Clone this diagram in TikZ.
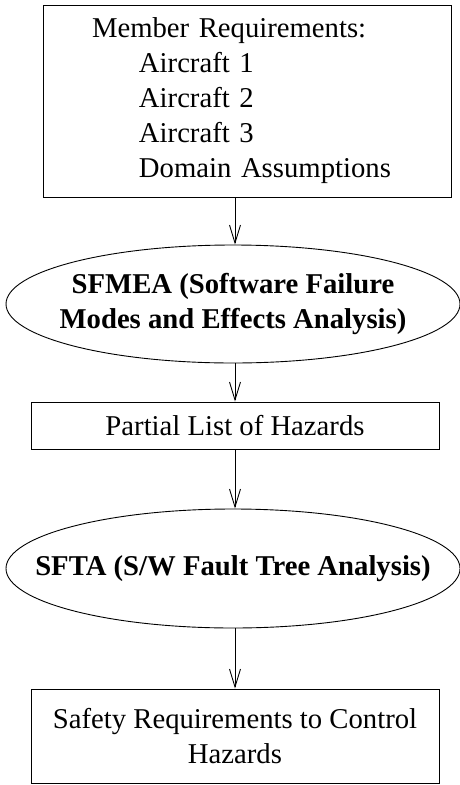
\documentclass[tikz,border=0pt]{standalone}
\usepackage{fontspec}
\setmainfont{Liberation Serif}
\usetikzlibrary{shapes.geometric,arrows.meta}
\begin{document}
\begin{tikzpicture}[x=1pt,y=-1pt,
  font=\fontsize{28.7}{35}\selectfont,
  every node/.style={line width=0.9pt},
  boxnode/.style={draw, rectangle, inner sep=0pt, align=center},
  ellnode/.style={draw, ellipse, inner ysep=0pt, align=center, font=\fontsize{28.7}{35}\selectfont\bfseries},
  arr/.style={line width=0.9pt, -{Straight Barb[length=18pt,width=11pt,line width=0.9pt]}}]
\useasboundingbox (0,0) rectangle (459,785);
\node[boxnode, minimum width=408pt, minimum height=192pt, text width=310pt, inner xsep=49pt, align=left] (req) at (247,101)
  {Member Requirements:\\\hspace*{47pt}Aircraft 1\\\hspace*{47pt}Aircraft 2\\\hspace*{47pt}Aircraft 3\\\hspace*{47pt}Domain Assumptions};
\node[ellnode, minimum width=454pt, minimum height=118pt, inner xsep=-14pt] (sfmea) at (233,304)
  {SFMEA (Software Failure\\Modes and Effects Analysis)};
\node[boxnode, minimum width=408pt, minimum height=47pt] (plh) at (235,425.5) {Partial List of Hazards};
\node[ellnode, minimum width=454pt, minimum height=119pt, inner xsep=-42pt] (sfta) at (233,568.5) {SFTA (S/W Fault Tree Analysis)};
\node[boxnode, minimum width=408pt, minimum height=94pt] (safe) at (235,736) {Safety Requirements to Control\\Hazards};
\draw[arr] (req.south -| plh.north) -- (plh.north |- sfmea.north);
\draw[arr] (plh.north |- sfmea.south) -- (plh.north);
\draw[arr] (plh.south) -- (plh.south |- sfta.north);
\draw[arr] (plh.south |- sfta.south) -- (safe.north);
\end{tikzpicture}
\end{document}
